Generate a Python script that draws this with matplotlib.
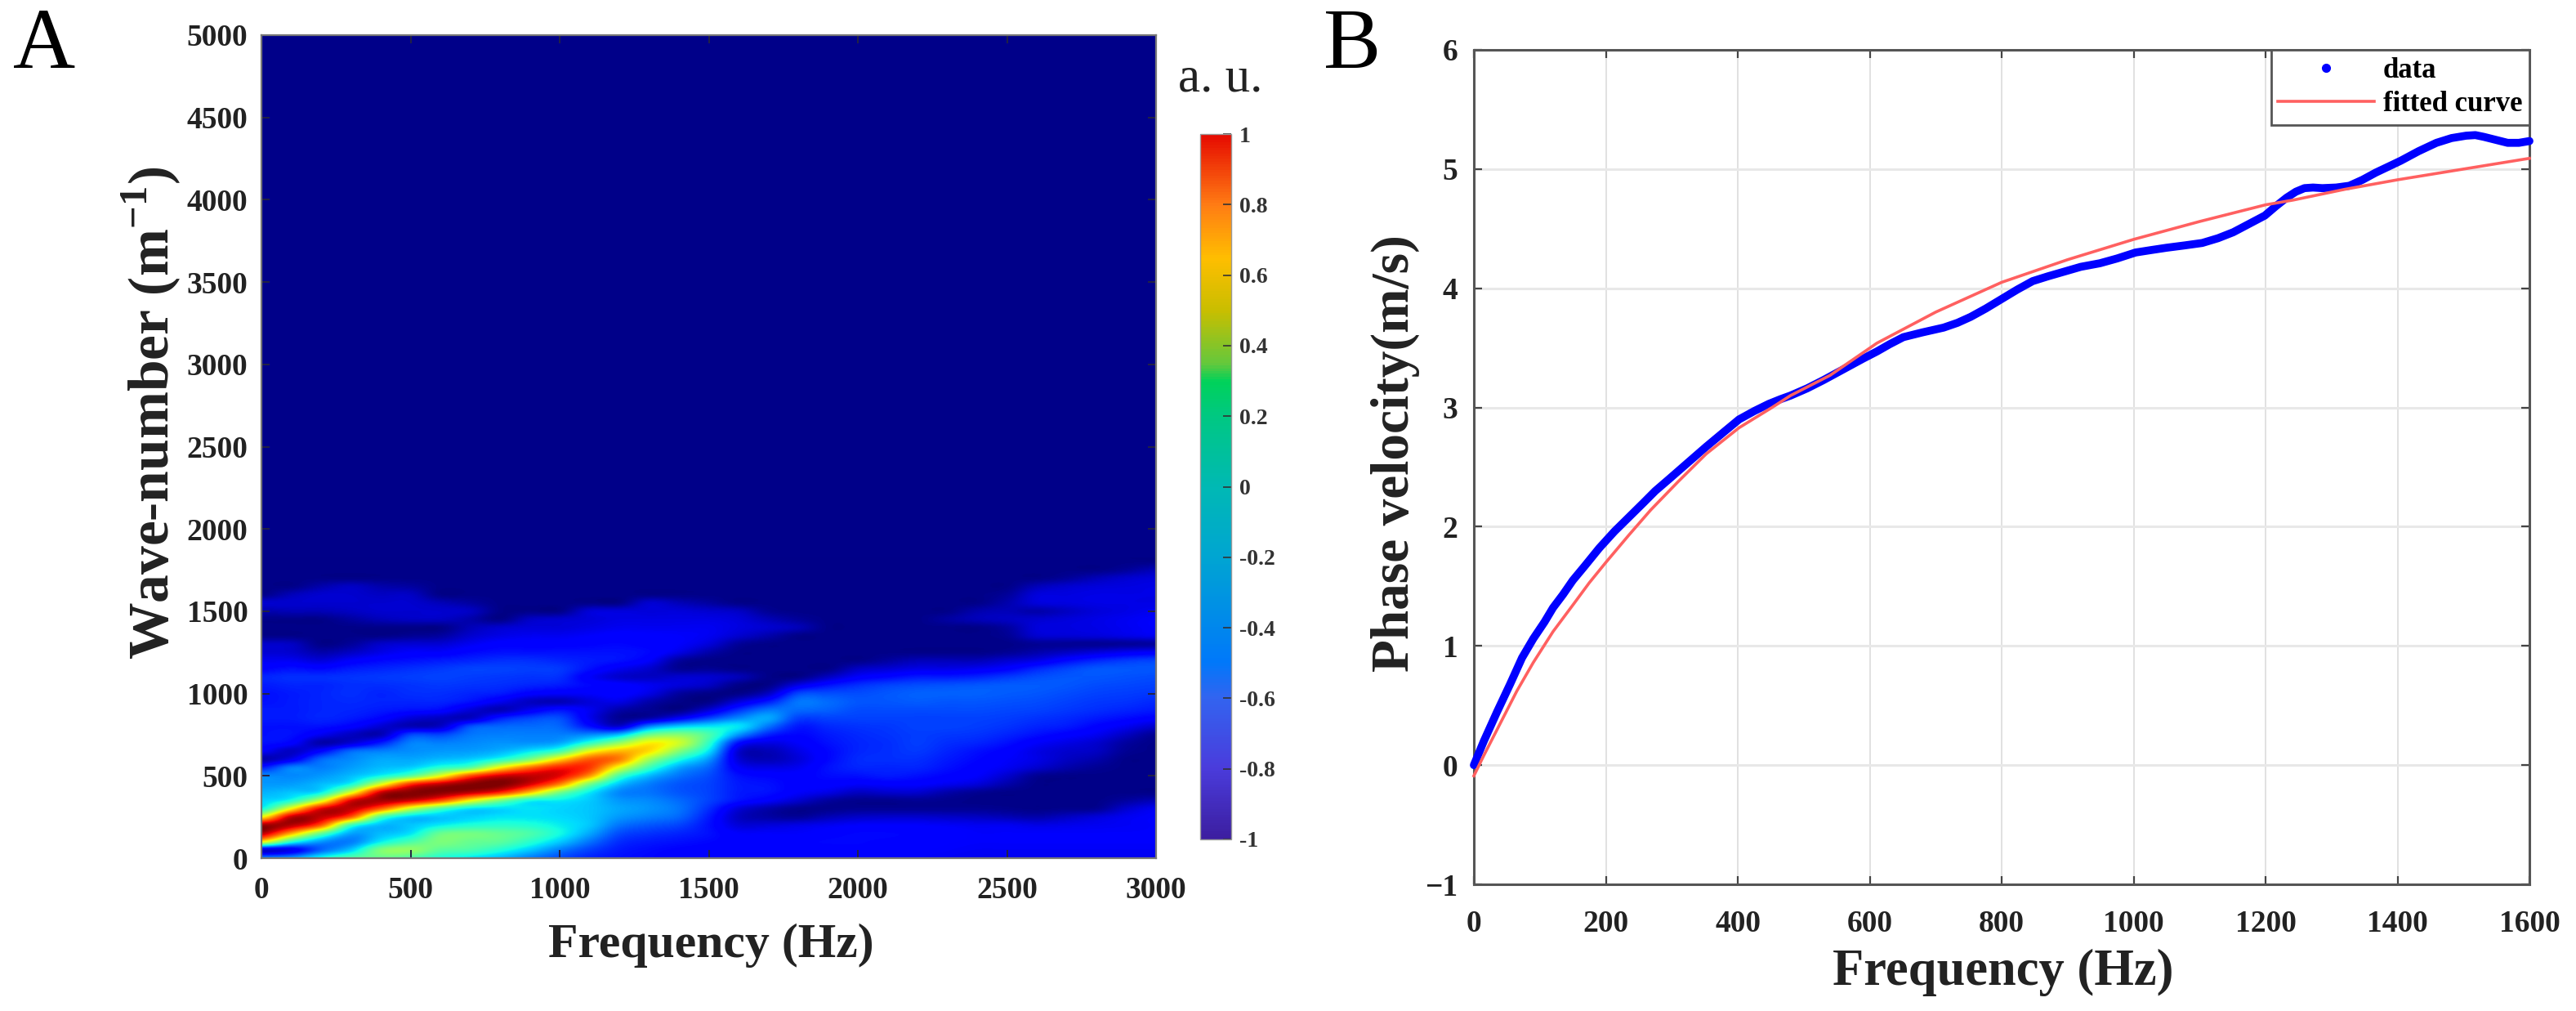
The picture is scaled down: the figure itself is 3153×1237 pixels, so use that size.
import numpy as np
import matplotlib
matplotlib.use('Agg')
import matplotlib.pyplot as plt
from matplotlib.cm import ScalarMappable
from matplotlib.colors import LinearSegmentedColormap, Normalize

plt.rcParams['font.family'] = ['Liberation Serif', 'DejaVu Serif']
plt.rcParams['mathtext.fontset'] = 'custom'
plt.rcParams['mathtext.rm'] = 'Liberation Serif:bold'
plt.rcParams['mathtext.bf'] = 'Liberation Serif:bold'

W, H = 3153, 1237

# Panel A: values read per frequency column, wave-number 0, 50, 100 ... upward
wave_numbers = np.arange(0, 1801, 50)
frequencies = np.arange(0, 3001, 100)
N = -.98  # navy background

col_0 = [-.5, -.85, .3, .9, .95, .3, -.25, -.34, -.4, -.45, -.48, -.7, -.92, -.78, -.72, -.72, -.72, -.7, -.7, -.72, -.72, -.7, -.68, -.75, -.8, -.85, -.87, N, N, N, -.92, -.86, N]
col_100 = [-.45, -.8, -.2, .45, .9, .88, .3, -.22, -.36, -.44, -.48, -.5, -.8, -.88, -.76, -.72, -.72, -.7, -.7, -.7, -.7, -.68, -.66, -.72, -.8, -.86, -.88, N, N, N, -.9, -.86, -.9, N]
col_200 = [-.25, -.55, -.45, -.05, .62, .88, .82, .2, -.28, -.38, -.45, -.5, -.55, -.75, -.92, -.8, -.72, -.68, -.68, -.68, -.68, -.68, -.66, -.74, -.84, -.92, N, N, N, N, -.9, -.86, -.86, -.92]
col_300 = [-.1, -.35, -.5, -.42, -.15, .62, .88, .82, .22, -.25, -.38, -.44, -.48, -.55, -.85, -.88, -.76, -.7, -.68, -.67, -.66, -.66, -.65, -.7, -.78, -.88, -.95, N, N, -.94, -.88, -.86, -.86, -.88]
col_400 = [-.05, 0, -.28, -.38, -.38, -.1, .6, .93, .85, .22, -.26, -.38, -.42, -.5, -.7, -.9, -.85, -.75, -.7, -.68, -.68, -.66, -.64, -.68, -.74, -.82, -.87, N, N, -.9, -.86, -.86, -.88, -.92]
col_500 = [-.1, .05, -.12, -.3, -.36, -.34, .18, .85, .98, .7, -.08, -.34, -.42, -.47, -.5, -.62, -.9, -.84, -.72, -.68, -.66, -.65, -.63, -.66, -.72, -.78, -.85, -.96, N, -.88, -.86, -.86, -.88, -.94]
col_600 = [-.22, -.08, 0, -.05, -.28, -.36, -.12, .65, .98, .88, .25, -.2, -.38, -.45, -.5, -.62, -.87, -.88, -.74, -.68, -.66, -.64, -.62, -.64, -.7, -.78, -.85, -.94, N, -.88, -.86, -.9]
col_700 = [-.3, -.12, -.05, -.02, -.22, -.34, -.3, .3, .9, .98, .65, -.08, -.34, -.44, -.48, -.52, -.6, -.88, -.84, -.72, -.68, -.65, -.63, -.62, -.68, -.74, -.8, -.86, -.9, -.92, -.88, -.94]
col_800 = [-.38, -.22, -.08, -.06, -.2, -.3, -.32, 0, .75, 1, .85, .3, -.22, -.4, -.46, -.5, -.55, -.7, -.9, -.8, -.7, -.66, -.64, -.62, -.66, -.72, -.76, -.82, -.86]
col_900 = [-.5, -.35, -.2, -.12, -.22, -.3, -.3, -.24, .42, .85, .88, .58, 0, -.3, -.46, -.5, -.54, -.62, -.8, -.88, -.76, -.68, -.65, -.63, -.66, -.72, -.76, -.8, -.84, -.88]
col_1000 = [-.6, -.5, -.35, -.25, -.28, -.32, -.33, -.28, 0, .55, .82, .75, .35, -.15, -.42, -.5, -.55, -.6, -.72, -.9, -.78, -.7, -.66, -.64, -.68, -.72, -.76, -.8, -.84, -.86]
col_1100 = [-.68, -.62, -.52, -.42, -.36, -.36, -.36, -.35, -.28, 0, .5, .7, .62, .25, -.2, -.48, -.72, -.8, -.8, -.84, -.78, -.74, -.78, -.72, -.7, -.72, -.75, -.78, -.82, -.84, -.85]
col_1200 = [-.72, -.7, -.66, -.6, -.52, -.45, -.42, -.45, -.48, -.36, -.12, .25, .55, .42, .05, -.38, -.85, -.96, -.92, -.82, -.76, -.76, -.86, -.8, -.72, -.72, -.74, -.76, -.8, -.82, -.84]
col_1300 = [-.74, -.73, -.7, -.65, -.58, -.5, -.46, -.48, -.52, -.5, -.38, -.15, .1, .35, .3, -.05, -.5, -.92, -.96, -.92, -.82, -.8, -.88, -.86, -.78, -.74, -.76, -.77, -.8, -.82, -.84, -.86]
col_1400 = [-.76, -.75, -.72, -.68, -.62, -.55, -.52, -.54, -.58, -.58, -.52, -.42, -.22, .02, .2, .02, -.35, -.78, N, N, -.94, -.84, -.86, -.96, -.94, -.82, -.78, -.78, -.8, -.82, -.84, -.9]
col_1500 = [-.77, -.76, -.74, -.72, -.72, -.7, -.66, -.62, -.62, -.62, -.6, -.55, -.45, -.3, -.18, -.12, -.3, -.62, -.85, N, N, -.88, -.86, -.96, N, -.92, -.84, -.8, -.8, -.82, -.86, -.94]
col_1600 = [-.78, -.77, -.76, -.78, -.84, -.88, -.84, -.72, -.7, -.7, -.72, -.78, -.84, -.85, -.72, -.45, -.3, -.48, -.66, -.84, N, N, -.9, N, N, N, -.95, -.86, -.83, -.84, -.88]
col_1700 = [-.78, -.77, -.76, -.78, -.84, -.93, -.92, -.78, -.72, -.72, -.75, -.82, -.9, -.9, -.82, -.68, -.52, -.42, -.52, -.7, -.88, N, N, N, N, N, N, -.92, -.86, -.9, -.96]
col_1800 = [-.78, -.76, -.75, -.78, -.82, -.95, -.97, -.86, -.78, -.76, -.76, -.8, -.84, -.82, -.78, -.74, -.7, -.62, -.54, -.52, -.62, -.82, N, N, N, N, N, N, -.9, -.95]
col_1900 = [-.77, -.76, -.74, -.76, -.8, -.9, -.97, -.94, -.82, -.76, -.73, -.72, -.74, -.74, -.72, -.7, -.67, -.62, -.56, -.54, -.6, -.72, -.88]
col_2000 = [-.76, -.75, -.74, -.74, -.78, -.87, -.96, -.97, -.88, -.78, -.72, -.68, -.67, -.68, -.68, -.67, -.65, -.62, -.6, -.58, -.6, -.66, -.78, -.88]
col_2100 = [-.77, -.76, -.75, -.74, -.78, -.86, -.96, -.97, -.86, -.77, -.7, -.68, -.66, -.66, -.66, -.65, -.64, -.62, -.6, -.58, -.58, -.62, -.74, -.85, -.94]
col_2200 = [-.78, -.77, -.76, -.75, -.78, -.86, -.96, -.96, -.86, -.77, -.72, -.68, -.66, -.64, -.63, -.63, -.62, -.62, -.6, -.57, -.56, -.6, -.7, -.82, -.9]
col_2300 = [-.79, -.78, -.77, -.76, -.79, -.87, -.96, -.97, -.92, -.8, -.75, -.72, -.7, -.68, -.66, -.64, -.62, -.62, -.6, -.58, -.56, -.59, -.7, -.82, -.9, N, N, N, N, -.94]
col_2400 = [-.8, -.79, -.78, -.78, -.8, -.88, -.96, N, -.96, -.84, -.78, -.76, -.74, -.72, -.68, -.65, -.63, -.62, -.6, -.58, -.56, -.58, -.68, -.8, -.9, N, N, N, N, -.9, -.92]
col_2500 = [-.8, -.79, -.78, -.78, -.8, -.9, -.97, N, N, -.92, -.86, -.8, -.78, -.76, -.72, -.68, -.65, -.63, -.61, -.59, -.57, -.57, -.64, -.76, -.86, -.96, N, -.96, -.94, -.88, -.9, -.92, -.95]
col_2600 = [-.8, -.79, -.78, -.78, -.82, -.92, N, N, N, N, -.96, -.86, -.82, -.82, -.78, -.72, -.68, -.65, -.62, -.6, -.58, -.57, -.6, -.68, -.82, -.92, -.96, -.86, -.84, -.86, -.92, -.84, -.84, -.9]
col_2700 = [-.8, -.79, -.78, -.78, -.81, -.88, -.97, N, N, N, N, -.92, -.88, -.86, -.82, -.76, -.7, -.67, -.64, -.62, -.6, -.58, -.58, -.62, -.74, -.88, -.96, -.85, -.83, -.84, -.88, -.83, -.83, -.86, -.95]
col_2800 = [-.8, -.79, -.78, -.78, -.8, -.84, -.96, N, N, N, N, -.96, -.92, -.88, -.86, -.8, -.75, -.7, -.66, -.64, -.62, -.6, -.58, -.58, -.68, -.84, -.96, -.84, -.82, -.82, -.84, -.82, -.82, -.84, -.9]
col_2900 = [-.8, -.79, -.78, -.78, -.79, -.8, -.86, -.94, N, N, N, N, N, -.96, -.94, -.88, -.8, -.73, -.68, -.65, -.63, -.61, -.59, -.58, -.64, -.8, -.95, -.82, -.8, -.8, -.82, -.82, -.82, -.83, -.86, -.95]
col_3000 = [-.8, -.79, -.78, -.78, -.78, -.78, -.8, -.9, N, N, N, N, N, N, N, -.96, -.86, -.76, -.7, -.67, -.64, -.62, -.6, -.58, -.62, -.78, -.94, -.8, -.78, -.78, -.8, -.82, -.82, -.82, -.84, -.9]

heat_cols = [col_0, col_100, col_200, col_300, col_400, col_500, col_600, col_700, col_800, col_900, col_1000,
             col_1100, col_1200, col_1300, col_1400, col_1500, col_1600, col_1700, col_1800, col_1900, col_2000,
             col_2100, col_2200, col_2300, col_2400, col_2500, col_2600, col_2700, col_2800, col_2900, col_3000]
heat = np.array([c + [N] * (len(wave_numbers) - len(c)) for c in heat_cols]).T

# colorbar colours, these differ from the jet used in the map
cbar_stops = [0, .1, .2, .25, .4, .5, .6, .65, .675, .75, .825, .9, 1]
cbar_colors = ['#3c1ea0', '#4a3cdc', '#3264f0', '#0078fa', '#00a5d2', '#00b9b4', '#00c882',
               '#00d25a', '#64c83c', '#c8be00', '#ffbe00', '#ff7d14', '#e60a00']
cbar_ticks = [-1, -.8, -.6, -.4, -.2, 0, .2, .4, .6, .8, 1]
cbar_labels = ['-1', '-0.8', '-0.6', '-0.4', '-0.2', '0', '0.2', '0.4', '0.6', '0.8', '1']

# Panel B
data_freq = [0, 15, 35, 55, 73, 90, 107, 120, 135, 150, 168, 190, 213, 235, 257, 275, 296, 325, 352, 378, 402, 425, 447, 465, 480, 505, 530, 550, 570, 590,
             611, 630, 651, 680, 712, 733, 753, 776, 800, 824, 847, 870, 895, 920, 949, 975, 1003, 1026, 1050, 1078, 1104, 1128, 1151, 1175, 1199, 1216, 1232, 1246, 1259, 1272, 1286,
             1307, 1327, 1347, 1367, 1386, 1405, 1432, 1459, 1482, 1504, 1518, 1531, 1549, 1567, 1584, 1600]
data_vel = [0, .2, .445, .68, .90, 1.06, 1.20, 1.32, 1.43, 1.55, 1.67, 1.82, 1.96, 2.08, 2.20, 2.30, 2.40, 2.54, 2.67, 2.79, 2.90, 2.97, 3.03, 3.07, 3.10, 3.16, 3.23, 3.29, 3.35, 3.41,
            3.47, 3.53, 3.59, 3.63, 3.67, 3.71, 3.76, 3.83, 3.91, 3.99, 4.06, 4.10, 4.14, 4.18, 4.21, 4.25, 4.30, 4.32, 4.34, 4.36, 4.38, 4.42, 4.47, 4.54, 4.61, 4.69, 4.76, 4.81, 4.84, 4.845, 4.84,
            4.845, 4.86, 4.91, 4.97, 5.02, 5.07, 5.15, 5.22, 5.26, 5.28, 5.285, 5.27, 5.245, 5.22, 5.22, 5.235]
fit_freq = [0, 15, 40, 65, 90, 120, 151, 175, 200, 235, 268, 310, 352, 402, 452, 480, 540, 611, 700, 800, 900, 1000, 1100, 1200, 1242, 1320, 1400, 1500, 1600]
fit_vel = [-.09, .08, .35, .62, .86, 1.12, 1.35, 1.53, 1.70, 1.93, 2.14, 2.38, 2.61, 2.83, 3.0, 3.1, 3.27, 3.54, 3.80, 4.05, 4.24, 4.41, 4.56, 4.70, 4.74, 4.83, 4.91, 5.0, 5.09]


def px_axes(fig, left, top, right, bottom):
    return fig.add_axes([left / W, 1 - bottom / H, (right - left) / W, (bottom - top) / H])


def px_text(fig, x, y, s, **kw):
    kw.setdefault('ha', 'center')
    kw.setdefault('va', 'center')
    fig.text(x / W, 1 - y / H, s, **kw)


fig = plt.figure(figsize=(W / 100, H / 100), dpi=100)

# Panel A
ax = px_axes(fig, 320, 43, 1415, 1050)
norm = Normalize(-1, 1)
ax.set_facecolor(plt.cm.jet(norm(N)))
ax.imshow(heat, origin='lower', aspect='auto', cmap='jet', norm=norm, interpolation='catrom',
          interpolation_stage='data', extent=[-50, 3050, -25, 1825])
ax.set_xlim(0, 3000)
ax.set_ylim(0, 5000)
ax.set_xticks(np.arange(0, 3001, 500))
ax.set_yticks(np.arange(0, 5001, 500))
ax.tick_params(direction='in', top=True, right=True, length=7, width=1.4, color='#222244',
               labelsize=27, labelcolor='#222222')
ax.tick_params(axis='x', pad=16)
ax.tick_params(axis='y', pad=12)
for t in ax.get_xticklabels() + ax.get_yticklabels():
    t.set_fontweight('bold')
for s in ax.spines.values():
    s.set_color('#777777')
    s.set_linewidth(1.6)

px_text(fig, 870, 1157, 'Frequency (Hz)', fontsize=43, fontweight='bold', color='#222222')
px_text(fig, 185, 505, r'Wave-number (m$^{\mathbf{-1}}$)', fontsize=50, fontweight='bold', rotation=90, color='#222222')
px_text(fig, 54, 58, 'A', fontsize=76)
px_text(fig, 1494, 97, 'a. u.', fontsize=44, color='#222222')

# colorbar
cax = px_axes(fig, 1469, 164, 1507, 1027)
cbar_map = LinearSegmentedColormap.from_list('cbar', list(zip(cbar_stops, cbar_colors)))
cb = fig.colorbar(ScalarMappable(norm=norm, cmap=cbar_map), cax=cax)
cb.set_ticks(cbar_ticks)
cb.set_ticklabels(cbar_labels)
cb.outline.set_edgecolor('#999999')
cb.outline.set_linewidth(1)
cax.tick_params(direction='in', length=7, width=1.2, color='#333333', labelsize=20, pad=7, labelcolor='#333333')
for t in cax.get_yticklabels():
    t.set_fontweight('bold')

# Panel B
ax2 = px_axes(fig, 1804, 61, 3096, 1082)
ax2.grid(True, axis='y', color='#e8e8e8', linewidth=2.2)
ax2.grid(True, axis='x', color='#dedede', linewidth=1.3)
ax2.set_axisbelow(True)
ax2.plot(data_freq, data_vel, color='#0000ff', linewidth=7, solid_capstyle='round', solid_joinstyle='round',
         clip_on=False, zorder=3)
fit_line, = ax2.plot(fit_freq, fit_vel, color='#ff6060', linewidth=2.6, clip_on=False, zorder=4)
data_handle, = ax2.plot([], [], linestyle='none', marker='.', color='#0000ff', markersize=14)
ax2.set_xlim(0, 1600)
ax2.set_ylim(-1, 6)
ax2.set_xticks(np.arange(0, 1601, 200))
ax2.set_yticks(np.arange(-1, 7, 1))
ax2.tick_params(direction='in', top=True, right=True, length=7, width=1.6, color='#444444',
                labelsize=27, labelcolor='#222222')
ax2.tick_params(axis='x', pad=22)
ax2.tick_params(axis='y', pad=14)
for t in ax2.get_xticklabels() + ax2.get_yticklabels():
    t.set_fontweight('bold')
for s in ax2.spines.values():
    s.set_color('#555555')
    s.set_linewidth(2.2)

leg = ax2.legend([data_handle, fit_line], ['data', 'fitted curve'], loc='upper right', bbox_to_anchor=(1, 1), borderaxespad=0,
                 prop={'family': 'Liberation Serif', 'weight': 'bold', 'size': 25}, fancybox=False, framealpha=1,
                 edgecolor='#555555', labelspacing=.25, handlelength=3.4, handletextpad=.3, borderpad=.25)
leg.get_frame().set_linewidth(2)
leg.set_zorder(10)

px_text(fig, 2452, 1190, 'Frequency (Hz)', fontsize=45, fontweight='bold', color='#222222')
px_text(fig, 1708, 555, 'Phase velocity(m/s)', fontsize=47, fontweight='bold', rotation=90, color='#222222')
px_text(fig, 1655, 58, 'B', fontsize=76)

fig.savefig('out.png', dpi=100)
